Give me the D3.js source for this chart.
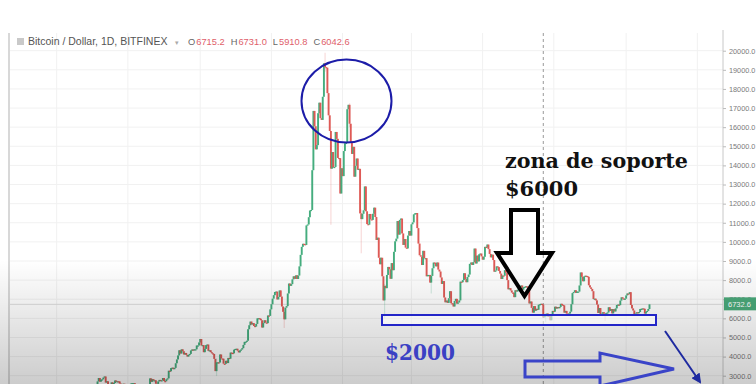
<!DOCTYPE html>
<html>
<head>
<meta charset="utf-8">
<script src="https://cdn.jsdelivr.net/npm/d3@7"></script>
<style>
  html, body { margin: 0; padding: 0; background: #fff; }
  svg { display: block; }
</style>
</head>
<body>
<svg id="chart" width="756" height="384"></svg>
<script>
// daily closes, Bitfinex BTC/USD
var firstDay = '2017-06-01';
var firstOpen = 2300;
var closes2017 = [
  // jun
  2450, 2520, 2560, 2520, 2700, 2880, 2690, 2790, 2810, 2900, 2960, 2640, 2710, 2450, 2440, 2500, 2650, 2560, 2620, 2750, 2680, 2710, 2700, 2590, 2560, 2460, 2580, 2570, 2530, 2480,
  // jul
  2430, 2500, 2570, 2600, 2610, 2610, 2500, 2560, 2500, 2370, 2330, 2400, 2360, 2230, 1930, 1930, 2230, 2320, 2280, 2860, 2680, 2820, 2740, 2760, 2580, 2570, 2700, 2780, 2730, 2760, 2880,
  // aug
  2720, 2710, 2810, 2860, 3260, 3230, 3400, 3420, 3340, 3410, 3650, 3850, 4060, 4330, 4160, 4380, 4280, 4110, 4190, 4090, 4000, 4090, 4140, 4320, 4370, 4350, 4380, 4380, 4580, 4580, 4740,
  // sep
  4920, 4580, 4600, 4230, 4400, 4600, 4630, 4300, 4330, 4230, 4170, 4140, 3880, 3240, 3700, 3700, 3690, 4110, 3900, 3890, 3630, 3620, 3780, 3660, 3930, 3890, 4210, 4190, 4170, 4360,
  // oct
  4400, 4410, 4310, 4220, 4320, 4370, 4440, 4610, 4770, 4780, 4830, 5430, 5640, 5830, 5680, 5750, 5600, 5570, 5710, 6000, 6010, 5980, 5900, 5520, 5750, 5900, 5780, 5750, 6150, 6130, 6470,
  // nov
  6740, 7030, 7210, 7380, 7400, 6990, 7120, 7460, 7140, 6620, 6340, 5950, 6560, 6640, 7300, 7820, 7700, 7790, 8040, 8200, 8070, 8250, 8060, 8240, 8720, 9320, 9740, 9900, 9880, 9840,
  // dec
  10860, 10910, 11290, 11640, 11670, 13750, 16850, 16050, 14840, 15060, 16730, 17280, 16470, 16380, 17590, 19340, 19140, 19110, 17780, 16620, 15800, 13830, 14700, 13890, 13920, 15750, 15390, 14390, 14380, 12530, 13850
];
var closes2018 = [
  // jan
  13440, 14750, 15160, 15180, 16940, 17170, 16180, 15170, 14600, 14970, 13410, 13980, 14360, 13770, 13820, 11490, 11190, 11470, 11650, 12900, 11600, 10930, 10900, 11460, 11180, 11150, 11470, 11790, 11300, 10100, 10220,
  // feb
  9170, 8830, 9170, 8200, 6940, 7700, 7580, 8270, 8690, 8560, 8070, 8890, 8520, 9480, 10030, 10170, 11090, 10380, 11150, 11220, 10440, 9840, 10150, 9700, 9660, 10330, 10570, 10330,
  // mar
  10920, 11020, 11440, 11490, 11510, 10720, 9910, 9300, 9230, 8790, 9530, 9150, 9150, 8200, 8270, 8270, 7870, 8220, 8620, 8920, 8900, 8720, 8920, 8550, 8450, 8140, 7800, 7950, 7090, 6840, 6930,
  // apr
  6810, 7050, 7420, 6790, 6780, 6620, 6910, 7020, 6770, 6830, 6940, 7920, 7890, 8000, 8360, 8060, 7890, 8160, 8290, 8850, 8920, 8790, 8940, 9650, 8870, 9280, 8980, 9350, 9390, 9240,
  // may
  9070, 9220, 9740, 9700, 9860, 9620, 9370, 9190, 9330, 9050, 8440, 8500, 8720, 8680, 8480, 8340, 8060, 8240, 8230, 8520, 8390, 8000, 7520, 7580, 7460, 7350, 7340, 7110, 7470, 7400, 7500,
  // jun
  7530, 7640, 7720, 7500, 7630, 7650, 7680, 7620, 7530, 6780, 6880, 6550, 6300, 6640, 6400, 6500, 6450, 6710, 6740, 6760, 6720, 6050, 6140, 6150, 6250, 6090, 6160, 5900, 6210, 6390,
  // jul
  6350, 6610, 6510, 6590, 6530, 6600, 6760, 6710, 6680, 6300, 6390, 6250, 6220, 6250, 6350, 6740, 7320, 7380, 7470, 7330, 7400, 7400, 7720, 8400, 8170, 7940, 8190, 8230, 8210, 8170, 7730,
  // aug
  7620, 7540, 7420, 7010, 7030, 6940, 6720, 6280, 6540, 6150, 6240, 6320, 6250, 6190, 6270, 6310, 6580, 6390, 6490, 6260, 6480, 6360, 6520, 6700, 6720, 6690, 6930, 7100, 7040, 6980, 7030,
  // sep
  7200, 7300, 7270, 7370, 6700, 6520, 6410, 6200, 6250, 6320, 6290, 6330, 6490, 6500, 6520, 6500, 6250, 6340, 6390, 6490, 6732.6
];

// long wicks that stand out
var wickDates = ['2017-09-15', '2017-11-12', '2017-12-17', '2017-12-22', '2018-01-07', '2018-01-17', '2018-02-06', '2018-03-18', '2018-06-24', '2018-08-14'];
var wickHighs = [3900, 6600, 19890, 15600, 17250, 11700, 7800, 8300, 6250, 6300];
var wickLows  = [2980, 5500, 18900, 10900, 16000, 9400, 6000, 7300, 5800, 5880];

var priceTicks = [3000, 4000, 5000, 6000, 7000, 8000, 9000, 10000, 11000, 12000, 13000, 14000, 15000, 16000, 17000, 18000, 19000, 20000];
var lastPrice = 6732.6;
var hoverDay = '2018-06-22';
var hoverOHLC = [['O', '6715.2'], ['H', '6731.0'], ['L', '5910.8'], ['C', '6042.6']];

var UP = '#45ad7e', DOWN = '#de5a56', BLUE = '#1c1ca8';
var svg = d3.select('#chart');
var defs = svg.append('defs');
var parse = d3.utcParse('%Y-%m-%d');
var fmtDay = d3.utcFormat('%Y-%m-%d');

var plot = { left: 10, right: 723, top: 30, bottom: 384 };

var x = d3.scaleUtc()
  .domain([parse('2017-03-22'), parse('2018-11-23')])
  .range([plot.left, plot.right]);
var y = d3.scaleLinear()
  .domain([3000, 20000])
  .range([375.7, 50.7]);

// build the candles, open = previous close
var candles = [];
var prev = firstOpen;
closes2017.concat(closes2018).forEach(function(c, i) {
  var day = d3.utcDay.offset(parse(firstDay), i);
  var w = wickDates.indexOf(fmtDay(day));
  candles.push({
    date: day,
    open: prev,
    close: c,
    high: w >= 0 ? wickHighs[w] : Math.max(prev, c),
    low: w >= 0 ? wickLows[w] : Math.min(prev, c)
  });
  prev = c;
});

defs.append('clipPath').attr('id', 'clip')
  .append('rect')
  .attr('x', plot.left).attr('y', plot.top)
  .attr('width', plot.right - plot.left).attr('height', plot.bottom - plot.top);

// grid
var grid = svg.append('g').attr('class', 'grid');
grid.selectAll('.hgrid')
  .data(priceTicks)
  .enter().append('line')
  .attr('x1', plot.left).attr('x2', plot.right)
  .attr('y1', function(d) { return y(d); })
  .attr('y2', function(d) { return y(d); })
  .attr('stroke', '#f1f1f1');
grid.selectAll('.vgrid')
  .data(x.ticks(d3.utcMonth.every(2)))
  .enter().append('line')
  .attr('x1', function(d) { return x(d); })
  .attr('x2', function(d) { return x(d); })
  .attr('y1', 33).attr('y2', plot.bottom)
  .attr('stroke', '#f1f1f1');

// left edge of the pane
svg.append('line')
  .attr('x1', 9).attr('x2', 9).attr('y1', 33).attr('y2', plot.bottom)
  .attr('stroke', '#d8d8d8').attr('stroke-width', 2);

// last price line
svg.append('line')
  .attr('x1', plot.left).attr('x2', plot.right)
  .attr('y1', y(lastPrice)).attr('y2', y(lastPrice))
  .attr('stroke', '#dcdcdc');

// hover crosshair
svg.append('line')
  .attr('x1', x(parse(hoverDay))).attr('x2', x(parse(hoverDay)))
  .attr('y1', 33).attr('y2', plot.bottom)
  .attr('stroke', '#9a9a9a').attr('stroke-dasharray', '3,3');

// candles
var bodyW = 1.9;
var series = svg.append('g').attr('clip-path', 'url(#clip)');
var candle = series.selectAll('.candle')
  .data(candles)
  .enter().append('g')
  .attr('class', 'candle');

candle.append('line')
  .attr('x1', function(d) { return x(d.date); })
  .attr('x2', function(d) { return x(d.date); })
  .attr('y1', function(d) { return y(d.high); })
  .attr('y2', function(d) { return y(d.low); })
  .attr('stroke', function(d) { return d.close >= d.open ? UP : DOWN; })
  .attr('stroke-opacity', 0.22)
  .attr('stroke-width', 1.2);

candle.append('rect')
  .attr('x', function(d) { return x(d.date) - bodyW / 2; })
  .attr('width', bodyW)
  .attr('y', function(d) { return y(Math.max(d.open, d.close)); })
  .attr('height', function(d) { return Math.max(1.2, Math.abs(y(d.open) - y(d.close))); })
  .attr('fill', function(d) { return d.close >= d.open ? UP : DOWN; });

// price axis on the right
var axis = svg.append('g')
  .attr('transform', 'translate(' + plot.right + ',0)')
  .call(d3.axisRight(y).tickValues(priceTicks).tickSize(3).tickPadding(3)
    .tickFormat(function(d) { return d3.format('.1f')(d); }));
axis.select('.domain').attr('stroke', '#c8c8c8').attr('d', 'M0,30V384');
axis.selectAll('.tick line').attr('stroke', '#bbb');
axis.selectAll('.tick text')
  .attr('fill', '#7a7a7a')
  .attr('font-family', 'Liberation Sans, Arial, sans-serif')
  .attr('font-size', 7.3);

// last price badge
svg.append('rect')
  .attr('x', plot.right + 1).attr('y', y(lastPrice) - 7)
  .attr('width', 32).attr('height', 13)
  .attr('fill', '#4aa97a');
svg.append('text')
  .attr('x', plot.right + 5).attr('y', y(lastPrice) + 3)
  .attr('fill', '#fff')
  .attr('font-family', 'Liberation Sans, Arial, sans-serif')
  .attr('font-size', 7.5)
  .text(d3.format('.1f')(lastPrice));

// header
svg.append('rect')
  .attr('x', 17).attr('y', 38).attr('width', 7).attr('height', 7)
  .attr('fill', '#c9c9c9');
svg.append('text')
  .attr('x', 28).attr('y', 45)
  .attr('fill', '#555')
  .attr('font-family', 'Liberation Sans, Arial, sans-serif')
  .attr('font-size', 10.5)
  .text('Bitcoin / Dollar, 1D, BITFINEX');
svg.append('text')
  .attr('x', 175).attr('y', 45)
  .attr('fill', '#aaa')
  .attr('font-family', 'DejaVu Sans, sans-serif')
  .attr('font-size', 7)
  .text('▾');
var ohlc = svg.append('text')
  .attr('x', 188).attr('y', 45)
  .attr('font-family', 'Liberation Sans, Arial, sans-serif')
  .attr('font-size', 9.3);
hoverOHLC.forEach(function(p, i) {
  ohlc.append('tspan').attr('fill', '#666').attr('dx', i ? 6 : 0).text(p[0]);
  ohlc.append('tspan').attr('fill', '#e0606a').attr('dx', 1).text(p[1]);
});

// video fade at the bottom
var grad = defs.append('linearGradient')
  .attr('id', 'fade').attr('x1', 0).attr('x2', 0).attr('y1', 0).attr('y2', 1);
grad.append('stop').attr('offset', '0%').attr('stop-color', '#000').attr('stop-opacity', 0);
grad.append('stop').attr('offset', '100%').attr('stop-color', '#000').attr('stop-opacity', 0.2);
svg.append('rect')
  .attr('x', 0).attr('y', 260).attr('width', 756).attr('height', 124)
  .attr('fill', 'url(#fade)');

// annotations
var notes = svg.append('g').attr('class', 'notes');

notes.append('ellipse')
  .attr('cx', 346.5).attr('cy', 101).attr('rx', 45).attr('ry', 41.5)
  .attr('fill', 'none').attr('stroke', BLUE).attr('stroke-width', 2);

notes.append('text')
  .attr('x', 505).attr('y', 168)
  .attr('font-family', 'DejaVu Serif, Liberation Serif, serif')
  .attr('font-weight', 'bold').attr('font-size', 20)
  .attr('textLength', 183).attr('lengthAdjust', 'spacingAndGlyphs')
  .attr('fill', '#111')
  .text('zona de soporte');
notes.append('text')
  .attr('x', 505).attr('y', 196)
  .attr('font-family', 'DejaVu Serif, Liberation Serif, serif')
  .attr('font-weight', 'bold').attr('font-size', 20)
  .attr('textLength', 73).attr('lengthAdjust', 'spacingAndGlyphs')
  .attr('fill', '#111')
  .text('$6000');

// black down arrow
notes.append('path')
  .attr('d', 'M511,210 L538,210 L538,253 L552,253 L524.5,296 L497,253 L511,253 Z')
  .attr('fill', 'none').attr('stroke', '#000').attr('stroke-width', 4)
  .attr('stroke-linejoin', 'miter');

// support box
notes.append('rect')
  .attr('x', 382).attr('y', 315).attr('width', 274).attr('height', 10)
  .attr('fill', '#fff').attr('fill-opacity', 0.55)
  .attr('stroke', '#2326c8').attr('stroke-width', 2);

notes.append('text')
  .attr('x', 385).attr('y', 360)
  .attr('font-family', 'DejaVu Serif, Liberation Serif, serif')
  .attr('font-weight', 'bold').attr('font-size', 23)
  .attr('textLength', 70).attr('lengthAdjust', 'spacingAndGlyphs')
  .attr('fill', '#3b41c4')
  .text('$2000');

// hollow right arrow
notes.append('path')
  .attr('d', 'M525,361 L600,361 L600,353 L674,369 L600,386 L600,377 L525,377 Z')
  .attr('fill', 'none').attr('stroke', '#3a44c8').attr('stroke-width', 3);

// thin arrow falling off the chart
defs.append('marker')
  .attr('id', 'head').attr('viewBox', '0 0 10 10')
  .attr('refX', 8).attr('refY', 5)
  .attr('markerWidth', 5).attr('markerHeight', 5)
  .attr('orient', 'auto')
  .append('path').attr('d', 'M0,0 L10,5 L0,10 Z').attr('fill', '#1e2aa0');
notes.append('line')
  .attr('x1', 665).attr('y1', 331).attr('x2', 700).attr('y2', 382)
  .attr('stroke', '#1e2aa0').attr('stroke-width', 2)
  .attr('marker-end', 'url(#head)');
</script>
</body>
</html>
